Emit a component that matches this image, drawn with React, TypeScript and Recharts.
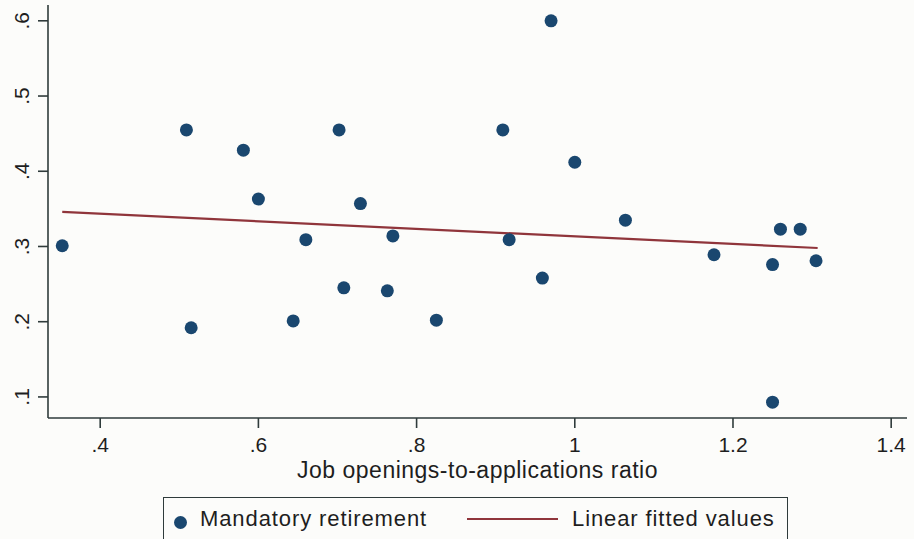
import React from "react";
import { ScatterChart, Scatter, XAxis, YAxis } from "recharts";

// job openings-to-applications ratio (x) and share with mandatory retirement (y)
const ratioValues = [
  0.352, 0.509, 0.515, 0.581, 0.6, 0.66, 0.644, 0.702, 0.708, 0.729, 0.763, 0.77,
  0.825, 0.909, 0.917, 0.959, 0.97, 1.0, 1.064, 1.176, 1.25, 1.26, 1.285, 1.305, 1.25,
];
const retirementValues = [
  0.301, 0.455, 0.192, 0.428, 0.363, 0.309, 0.201, 0.455, 0.245, 0.357, 0.241, 0.314,
  0.202, 0.455, 0.309, 0.258, 0.6, 0.412, 0.335, 0.289, 0.276, 0.323, 0.323, 0.281, 0.093,
];

// linear fit, drawn between min and max x
const fitX = [0.352, 1.307];
const fitY = [0.346, 0.298];

const xTicks = [0.4, 0.6, 0.8, 1, 1.2, 1.4];
const yTicks = [0.1, 0.2, 0.3, 0.4, 0.5, 0.6];

const NAVY = "#1a476f";
const MAROON = "#90353b";
const AXIS = "#2f3b3b";
const TEXT = "#1e1e1e";
const FONT = "'Liberation Sans', Arial, sans-serif";

const points = ratioValues.map((x, i) => ({ x, y: retirementValues[i] }));
const fitLine = fitX.map((x, i) => ({ x, y: fitY[i] }));

// stata style: .4 instead of 0.4
const fmt = (v: number) => {
  const s = String(Math.round(v * 10) / 10);
  return s.startsWith("0.") ? s.slice(1) : s;
};

const YTick = ({ x, y, payload }: any) => (
  <text
    x={x}
    y={y}
    transform={`rotate(-90 ${x} ${y})`}
    textAnchor="middle"
    fontSize={21}
    fill={TEXT}
    fontFamily={FONT}
  >
    {fmt(payload.value)}
  </text>
);

const Dot = ({ cx, cy }: any) => <circle cx={cx} cy={cy} r={6.5} fill={NAVY} />;

export default function App() {
  return (
    <div
      style={{
        position: "absolute",
        left: 0,
        top: 0,
        width: 914,
        height: 539,
        background: "#fcfcfa",
        overflow: "hidden",
        fontFamily: FONT,
      }}
    >
      <ScatterChart width={914} height={539} margin={{ top: 5, right: 7, left: 0, bottom: 61 }}>
        <XAxis
          type="number"
          dataKey="x"
          domain={[0.334, 1.42]}
          ticks={xTicks}
          tickFormatter={fmt}
          allowDataOverflow
          height={60}
          tickSize={10}
          tickMargin={9}
          stroke={AXIS}
          strokeWidth={1.6}
          tick={{ fill: TEXT, fontSize: 21, fontFamily: FONT }}
          label={{
            value: "Job openings-to-applications ratio",
            position: "bottom",
            offset: -16,
            fill: TEXT,
            fontSize: 23,
            fontFamily: FONT,
            letterSpacing: 0.5,
          }}
        />
        <YAxis
          type="number"
          dataKey="y"
          domain={[0.072, 0.621]}
          ticks={yTicks}
          allowDataOverflow
          width={48}
          tickSize={10}
          tickMargin={9}
          stroke={AXIS}
          strokeWidth={1.6}
          tick={<YTick />}
        />
        <Scatter
          data={fitLine}
          line={{ stroke: MAROON, strokeWidth: 2.2 }}
          shape={() => <g />}
          isAnimationActive={false}
        />
        <Scatter data={points} shape={<Dot />} isAnimationActive={false} />
      </ScatterChart>

      {/* legend box, runs off the bottom edge like the scan */}
      <div
        style={{
          position: "absolute",
          left: 163,
          top: 497,
          width: 625,
          height: 60,
          border: `1.5px solid ${AXIS}`,
          boxSizing: "border-box",
          color: TEXT,
          fontSize: 22,
          letterSpacing: 0.9,
        }}
      >
        <div
          style={{
            position: "absolute",
            left: 10,
            top: 18,
            width: 13,
            height: 13,
            borderRadius: "50%",
            background: NAVY,
          }}
        />
        <span style={{ position: "absolute", left: 36, top: 8, lineHeight: "26px", whiteSpace: "nowrap" }}>
          Mandatory retirement
        </span>
        <div
          style={{
            position: "absolute",
            left: 303,
            top: 20,
            width: 91,
            height: 2,
            background: MAROON,
          }}
        />
        <span style={{ position: "absolute", left: 408, top: 8, lineHeight: "26px", whiteSpace: "nowrap" }}>
          Linear fitted values
        </span>
      </div>
    </div>
  );
}
